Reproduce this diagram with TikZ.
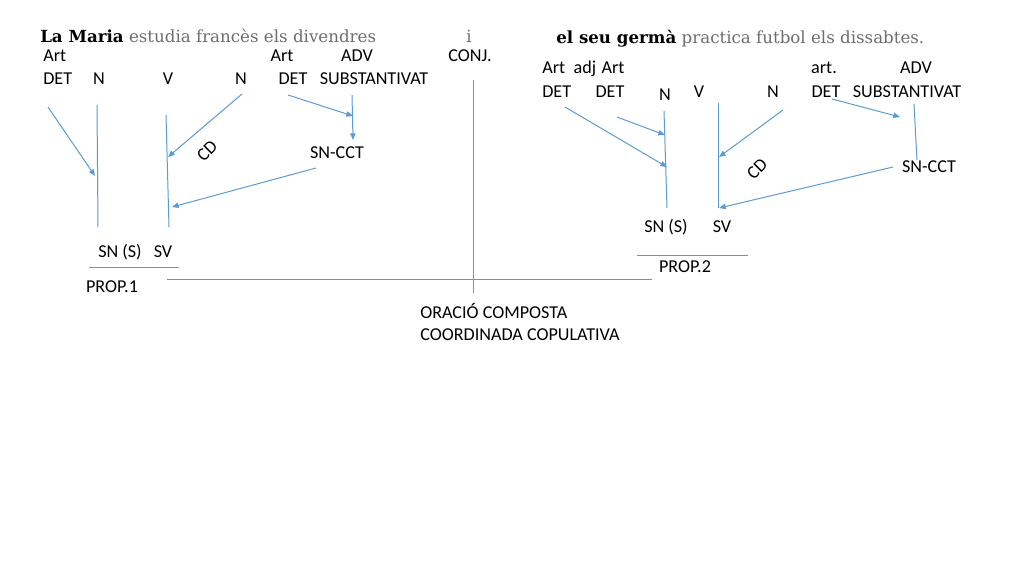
\documentclass[tikz,border=0pt]{standalone}
\usepackage{fontspec}
\setmainfont{Carlito}
\newfontfamily\georgia{DejaVu Serif}
\usetikzlibrary{arrows.meta}
\definecolor{lineblue}{RGB}{91,155,213}
\definecolor{txtgrey}{RGB}{110,110,110}
\tikzset{
  lbl/.style={inner sep=0pt, anchor=base, font=\fontsize{13.6pt}{15pt}\selectfont, text=black},
  lblw/.style={lbl, anchor=base west},
  rotlbl/.style={lbl, anchor=center, rotate=45},
  sent/.style={inner sep=0pt, anchor=base west, font=\georgia\fontsize{12.5pt}{15pt}\selectfont},
  ln/.style={draw=lineblue, line width=0.75pt},
  arr/.style={ln, -{Triangle[length=5pt,width=4pt]}},
}
\begin{document}
\begin{tikzpicture}[x=0.75pt,y=-0.75pt]
\useasboundingbox[fill=white] (0,0) rectangle (1024,576);
% sentences
\node[sent] (s1) at (40,42) {\textbf{La Maria} \textcolor{txtgrey}{estudia francès els divendres}};
\node[sent, anchor=base, text=txtgrey] (conjw) at (469,42) {i};
\node[sent] (s2) at (556,43) {\textbf{el seu germà} \textcolor{txtgrey}{practica futbol els dissabtes.}};
% left labels
\node[lblw] (la1) at (43,61) {Art};
\node[lbl] (la2) at (282,61) {Art};
\node[lbl] (ladv) at (357,61) {ADV};
\node[lbl] (conj) at (470,61) {CONJ.};
\node[lblw] (ldet1) at (43,84) {DET};
\node[lbl] (ln1) at (99,84) {N};
\node[lbl] (lv) at (168,84) {V};
\node[lbl] (ln2) at (241,84) {N};
\node[lbl] (ldet2) at (293,84) {DET};
\node[lbl] (lsub) at (374,84) {SUBSTANTIVAT};
\node[lbl] (lcct) at (337,158) {SN-CCT};
\node[rotlbl] (lcd) at (207,151) {CD};
\node[lbl] (lsn) at (120,257) {SN (S)};
\node[lbl] (lsv) at (163,257) {SV};
\node[lbl] (lprop) at (112,292) {PROP.1};
% right labels
\node[lblw] (ra1) at (542,73) {Art};
\node[lbl] (radj) at (585,73) {adj};
\node[lbl] (ra2) at (613,73) {Art};
\node[lbl] (rart) at (824,73) {art.};
\node[lbl] (radv) at (916,73) {ADV};
\node[lblw] (rdet1) at (542,97) {DET};
\node[lbl] (rdet2) at (610,97) {DET};
\node[lbl] (rn1) at (665,100) {N};
\node[lbl] (rv) at (699,97) {V};
\node[lbl] (rn2) at (773,97) {N};
\node[lbl] (rdet3) at (826,97) {DET};
\node[lbl] (rsub) at (907,97) {SUBSTANTIVAT};
\node[lbl] (rcct) at (929,172) {SN-CCT};
\node[rotlbl] (rcd) at (757,169) {CD};
\node[lbl] (rsn) at (666,232) {SN (S)};
\node[lbl] (rsv) at (722,232) {SV};
\node[lbl] (rprop) at (685,272) {PROP.2};
% bottom
\node[lblw] (or1) at (420,318) {ORACIÓ COMPOSTA};
\node[lblw] (or2) at (420,340) {COORDINADA COPULATIVA};
% left coordinates
\coordinate (a1s) at (48,107); \coordinate (a1e) at (95,176);
\coordinate (n1t) at (97,105); \coordinate (n1b) at (98,227);
\coordinate (vt) at (166,115); \coordinate (vb) at (169,227);
\coordinate (cds) at (242,94); \coordinate (cde) at (168,157);
\coordinate (d2s) at (288,95); \coordinate (d2e) at (353,116);
\coordinate (subs) at (352,95); \coordinate (sube) at (353,140);
\coordinate (ccs) at (316,168); \coordinate (cce) at (172,207);
\coordinate (p1l) at (89,267); \coordinate (p1r) at (179,267);
\coordinate (hl) at (167,279); \coordinate (hr) at (652,279);
\coordinate (ct) at (473,80); \coordinate (cb) at (473,293);
% right coordinates
\coordinate (b1s) at (565,107); \coordinate (b1e) at (667,167);
\coordinate (b2s) at (617,117); \coordinate (b2e) at (665,135);
\coordinate (rn1t) at (664,111); \coordinate (rn1b) at (667,208);
\coordinate (rvt) at (718,103); \coordinate (rvb) at (718,208);
\coordinate (rcds) at (783,110); \coordinate (rcde) at (719,157);
\coordinate (rd3s) at (832,99); \coordinate (rd3e) at (900,117);
\coordinate (rsubt) at (914,104); \coordinate (rsubb) at (917,160);
\coordinate (rccs) at (893,167); \coordinate (rcce) at (719,208);
\coordinate (p2l) at (637,255); \coordinate (p2r) at (748,255);
% left connectors
\draw[arr] (a1s) -- (a1e);
\draw[ln] (n1t) -- (n1b);
\draw[ln] (vt) -- (vb);
\draw[arr] (cds) -- (cde);
\draw[arr] (d2s) -- (d2e);
\draw[arr] (subs) -- (sube);
\draw[arr] (ccs) -- (cce);
\draw[ln] (p1l) -- (p1r);
\draw[ln] (hl) -- (hr);
\draw[ln] (ct) -- (cb);
% right connectors
\draw[arr] (b1s) -- (b1e);
\draw[arr] (b2s) -- (b2e);
\draw[ln] (rn1t) -- (rn1b);
\draw[ln] (rvt) -- (rvb);
\draw[arr] (rcds) -- (rcde);
\draw[arr] (rd3s) -- (rd3e);
\draw[ln] (rsubt) -- (rsubb);
\draw[arr] (rccs) -- (rcce);
\draw[ln] (p2l) -- (p2r);
\end{tikzpicture}
\end{document}
